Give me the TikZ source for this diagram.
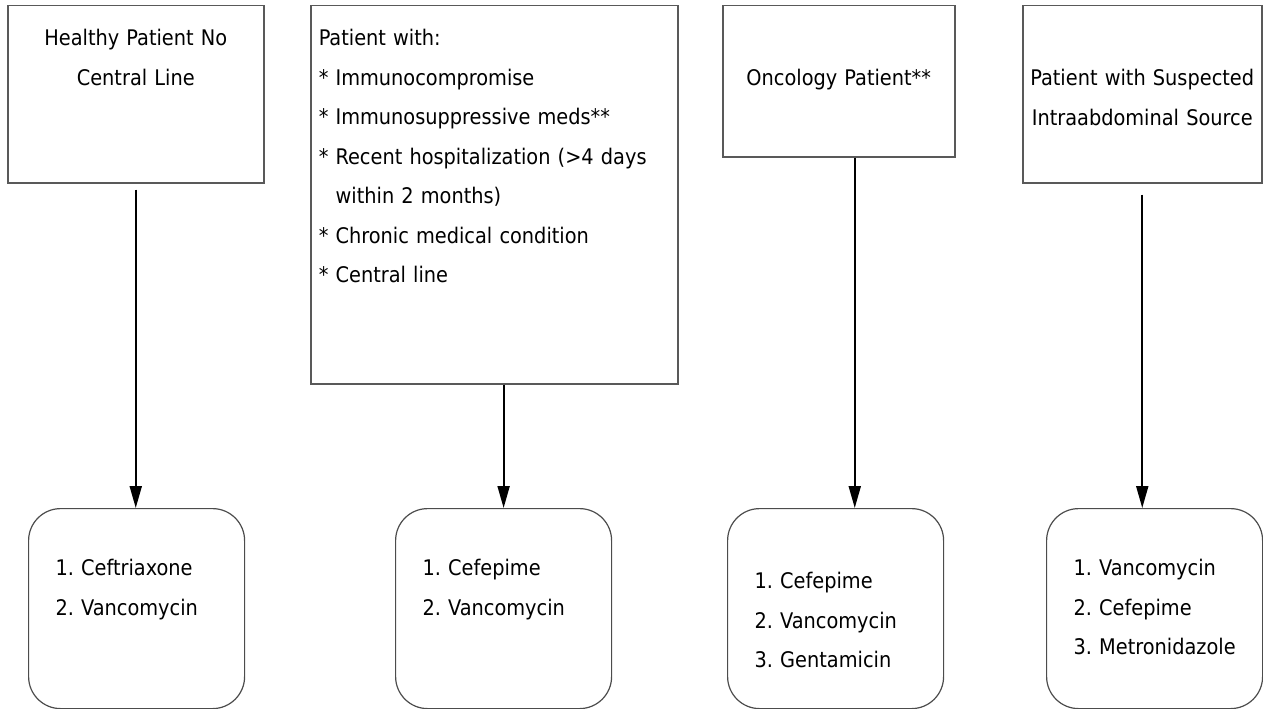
\documentclass[tikz,border=0pt]{standalone}
\usepackage{fontspec}
\setmainfont{DejaVu Sans Condensed}
\usetikzlibrary{arrows.meta}
\hyphenpenalty=10000
\exhyphenpenalty=10000

\begin{document}
\begin{tikzpicture}[x=1pt, y=-1pt, font=\fontsize{21.5}{39.5}\selectfont,
  group/.style={draw=black!65, line width=1.5pt, anchor=north west, inner xsep=4pt, inner ysep=0pt},
  drug/.style={draw=black!70, line width=1.2pt, rounded corners=32pt, anchor=north west,
    inner xsep=27pt, inner ysep=0pt, text width=162pt, align=left}]
  \useasboundingbox (0,0) rectangle (1263,709);
  % patient groups
  \node[group, text width=248pt, align=center, text height=40pt, text depth=137pt] (healthy) at (7,5)
    {Healthy Patient No\\Central Line};
  \node[group, inner xsep=8pt, text width=351pt, align=left, text height=40pt, text depth=338pt] (risk) at (310,5)
    {Patient with:\\{*} Immunocompromise\\{*} Immunosuppressive meds**\\{*} Recent hospitalization (>4 days\\\phantom{*} within 2 months)\\{*} Chronic medical condition\\{*} Central line};
  \node[group, text width=224pt, align=center, text height=80pt, text depth=71pt] (onco) at (722,5)
    {Oncology Patient**};
  \node[group, text width=231pt, align=center, text height=80pt, text depth=97pt] (abdo) at (1022,5)
    {Patient with Suspected\\Intraabdominal Source};
  % regimens
  \node[drug, text height=67pt, text depth=133pt] (ceftri) at (28,508) {1.~Ceftriaxone\\2.~Vancomycin};
  \node[drug, text height=67pt, text depth=133pt] (cefep) at (395,508) {1.~Cefepime\\2.~Vancomycin};
  \node[drug, text height=80pt, text depth=120pt] (oncorx) at (727,508) {1.~Cefepime\\2.~Vancomycin\\3.~Gentamicin};
  \node[drug, text height=67pt, text depth=133pt] (abdorx) at (1046,508) {1.~Vancomycin\\2.~Cefepime\\3.~Metronidazole};
  \path[-{Triangle[length=22pt, width=12pt]}, line width=2pt]
  ([yshift=-6pt]healthy.south) edge (healthy.south |- ceftri.north)
  (cefep.north |- risk.south) edge (cefep.north)
  ([xshift=16pt]onco.south) edge ([xshift=16pt]onco.south |- oncorx.north)
  ([yshift=-11pt]abdo.south) edge (abdo.south |- abdorx.north)
  ;
\end{tikzpicture}
\end{document}
